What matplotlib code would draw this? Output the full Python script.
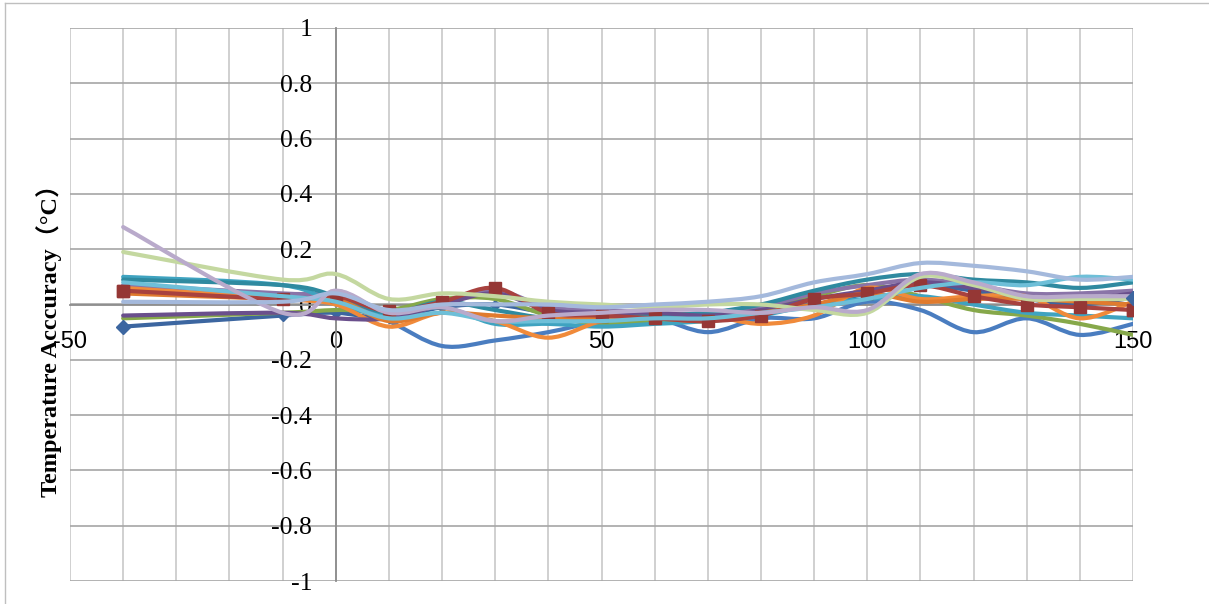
import matplotlib
matplotlib.use("Agg")
import matplotlib.pyplot as plt
from matplotlib.path import Path
from matplotlib.patches import PathPatch
from matplotlib.lines import Line2D
from matplotlib.ticker import MultipleLocator, FuncFormatter

plt.rcParams['axes.unicode_minus'] = False

# measurement temperatures (°C)
temps = [-40, -10, 0, 10, 20, 30, 40, 50, 60, 70, 80, 90, 100, 110, 120, 130, 140, 150]

# accuracy of each sensor (°C)
blue_diamond = [-0.08, -0.04, -0.03, -0.05, -0.01, 0.00, -0.03, -0.04, -0.04, -0.03, -0.01, 0.00, 0.04, 0.07, 0.05, 0.02, 0.00, 0.025]
red_square = [0.05, 0.02, 0.03, -0.025, 0.01, 0.06, -0.03, -0.04, -0.05, -0.06, -0.04, 0.02, 0.04, 0.07, 0.03, 0.0, -0.01, -0.02]
green = [-0.05, -0.03, -0.02, -0.02, 0.02, 0.02, -0.04, -0.07, -0.06, -0.05, -0.02, 0.03, 0.07, 0.03, -0.02, -0.04, -0.07, -0.11]
purple = [0.07, 0.04, 0.03, -0.04, 0.0, 0.05, -0.01, -0.02, -0.03, -0.04, -0.01, 0.04, 0.07, 0.09, 0.07, 0.04, 0.04, 0.05]
aqua = [0.10, 0.07, 0.0, -0.04, -0.01, -0.07, -0.07, -0.08, -0.07, -0.06, -0.04, 0.0, 0.02, 0.03, 0.0, -0.03, -0.04, -0.05]
orange = [0.06, 0.02, 0.0, -0.08, -0.03, -0.06, -0.12, -0.06, -0.04, -0.04, -0.07, -0.04, 0.06, 0.02, 0.03, 0.03, -0.05, 0.01]
low_blue = [0.05, 0.03, 0.02, -0.06, -0.15, -0.13, -0.10, -0.06, -0.05, -0.10, -0.05, -0.05, 0.01, -0.02, -0.10, -0.05, -0.11, -0.07]
teal = [0.09, 0.07, 0.03, -0.03, 0.01, -0.02, -0.05, -0.05, -0.04, -0.03, 0.0, 0.05, 0.09, 0.11, 0.09, 0.08, 0.06, 0.08]
dark_purple = [-0.04, -0.03, -0.05, -0.05, 0.0, 0.04, -0.02, -0.03, -0.03, -0.04, -0.02, 0.02, 0.05, 0.08, 0.06, 0.03, 0.02, 0.04]
dark_orange = [0.04, 0.02, 0.02, -0.06, -0.03, -0.04, -0.05, -0.05, -0.05, -0.06, -0.03, 0.0, 0.04, 0.01, 0.02, 0.02, 0.01, 0.0]
sky = [0.08, 0.03, 0.01, -0.05, -0.03, -0.06, -0.06, -0.06, -0.05, -0.05, -0.03, -0.01, 0.02, 0.06, 0.08, 0.07, 0.10, 0.09]
light_green = [0.19, 0.09, 0.11, 0.02, 0.04, 0.03, 0.01, 0.0, -0.01, 0.0, 0.0, -0.02, -0.03, 0.10, 0.07, 0.02, 0.02, 0.02]
light_purple = [0.28, -0.03, 0.05, -0.03, -0.01, -0.06, -0.04, -0.03, -0.02, -0.02, -0.03, -0.01, -0.02, 0.11, 0.08, 0.03, 0.03, 0.03]
light_blue = [0.01, 0.01, 0.04, -0.02, 0.0, 0.0, 0.0, -0.01, 0.0, 0.01, 0.03, 0.08, 0.11, 0.15, 0.14, 0.12, 0.09, 0.10]

series = [
    (low_blue, '#4A7DC0'),
    (blue_diamond, '#3C66A0'),
    (green, '#86A84A'),
    (purple, '#8A74A8'),
    (aqua, '#3FA3C0'),
    (orange, '#F08A3A'),
    (teal, '#2F8AA0'),
    (dark_purple, '#6A4F8C'),
    (dark_orange, '#E07B2E'),
    (red_square, '#A8423F'),
    (sky, '#6EBFD8'),
    (light_green, '#C4D8A0'),
    (light_purple, '#B9AACB'),
    (light_blue, '#A4B9DC'),
]


def smooth_path(xs, ys):
    # excel-like smoothed line: cubic bezier through every point
    pts = list(zip(xs, ys))
    verts = [pts[0]]
    codes = [Path.MOVETO]
    n = len(pts)
    for i in range(n - 1):
        p0 = pts[i - 1] if i > 0 else pts[i]
        p1 = pts[i]
        p2 = pts[i + 1]
        p3 = pts[i + 2] if i + 2 < n else pts[i + 1]
        c1 = (p1[0] + (p2[0] - p0[0]) / 6, p1[1] + (p2[1] - p0[1]) / 6)
        c2 = (p2[0] - (p3[0] - p1[0]) / 6, p2[1] - (p3[1] - p1[1]) / 6)
        verts += [c1, c2, p2]
        codes += [Path.CURVE4] * 3
    return Path(verts, codes)


fig = plt.figure(figsize=(12.09, 6.04), dpi=100)
ax = fig.add_axes([70 / 1209, (604 - 581) / 604, 1063 / 1209, 553 / 604])

z = 3
for vals, col in series:
    ax.add_patch(PathPatch(smooth_path(temps, vals), facecolor='none', zorder=z,
                           edgecolor=col, lw=3, capstyle='round', joinstyle='round'))
    if vals is red_square:
        ax.plot(temps, red_square, ls='none', marker='s', ms=8.5, color='#953735', zorder=z + 0.5)
    if vals is blue_diamond:
        ax.plot(temps, blue_diamond, ls='none', marker='D', ms=5, color='#3C66A0', zorder=z + 0.5)
    z += 1

# end markers sit on top in the original
ax.plot([temps[0], temps[-1]], [red_square[0], red_square[-1]], ls='none',
        marker='s', ms=8.5, color='#953735', zorder=30)
ax.plot([temps[0], temps[-1]], [blue_diamond[0], blue_diamond[-1]], ls='none',
        marker='D', ms=7, color='#3C66A0', zorder=30)

ax.set_xlim(-50, 150)
ax.set_ylim(-1, 1)
ax.xaxis.set_major_locator(MultipleLocator(50))
ax.xaxis.set_minor_locator(MultipleLocator(10))
ax.yaxis.set_major_locator(MultipleLocator(0.2))
ax.grid(True, which='major', axis='y', color='#A6A6A6', lw=1.2)
ax.grid(True, which='both', axis='x', color='#C8C8C8', lw=1.2)
ax.set_axisbelow(True)

for s in ['top', 'right']:
    ax.spines[s].set_visible(False)
ax.spines['left'].set_position(('data', 0))
ax.spines['bottom'].set_position(('data', 0))
ax.spines['left'].set_color('#8C8C8C')
ax.spines['bottom'].set_color('#8C8C8C')
ax.spines['left'].set_linewidth(1.3)
ax.spines['bottom'].set_linewidth(1.3)

ax.yaxis.set_major_formatter(FuncFormatter(lambda v, p: '0' if abs(v) < 1e-9 else f'{v:g}'))
ax.tick_params(axis='both', which='both', length=0)
ax.tick_params(axis='x', pad=19, labelsize=17)
ax.tick_params(axis='y', pad=17, labelsize=18.5)
for lab in ax.get_xticklabels():
    lab.set_fontfamily('Liberation Sans')
for lab in ax.get_yticklabels():
    lab.set_fontfamily('Liberation Serif')

fig.text(49 / 1209, 1 - 335 / 604, 'Temperature Acccuracy（°C）', rotation=90,
         ha='center', va='center', fontsize=17.5, fontweight='bold',
         family=['Liberation Serif', 'Noto Sans CJK SC'])

# chart outer frame
fig.add_artist(Line2D([5 / 1209, 5 / 1209], [0, 1 - 3 / 604], transform=fig.transFigure, color='#BFBFBF', lw=1))
fig.add_artist(Line2D([5 / 1209, 1], [1 - 3 / 604, 1 - 3 / 604], transform=fig.transFigure, color='#BFBFBF', lw=1))

fig.savefig('out.png', dpi=100)
